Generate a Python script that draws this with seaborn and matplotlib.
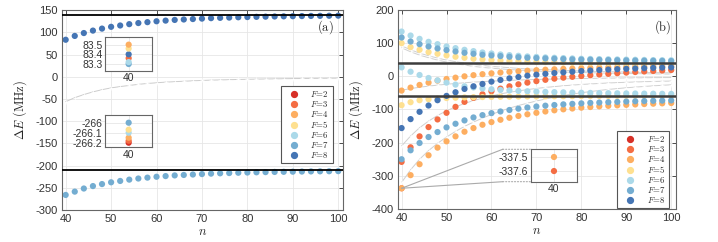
import numpy as np
import matplotlib
matplotlib.use('Agg')
import matplotlib.pyplot as plt
from matplotlib.lines import Line2D
from matplotlib.patches import ConnectionPatch
import seaborn as sns

# principal quantum number
n = np.arange(40, 102, 2)
F_values = [2, 3, 4, 5, 6, 7, 8]
colors = {2: '#d73027', 3: '#f46d43', 4: '#fdae61', 5: '#fee090',
          6: '#abd9e9', 7: '#74add1', 8: '#4575b4'}

# ---- panel (a) ----
upper_a = [83.4, 92.0, 98.5, 104.0, 108.5, 112.5, 115.5, 118.5, 121.0, 123.0, 125.0,
           126.5, 128.0, 129.0, 130.0, 131.0, 132.0, 132.7, 133.3, 134.0, 134.5,
           135.0, 135.4, 135.8, 136.1, 136.4, 136.7, 137.0, 137.2, 137.4, 137.6]
lower_a = [-266.0, -258.5, -251.5, -246.0, -241.5, -237.5, -234.5, -231.5, -229.0, -227.0,
           -225.0, -223.5, -222.0, -221.0, -220.0, -219.0, -218.0, -217.3, -216.7, -216.0,
           -215.5, -215.0, -214.6, -214.2, -213.9, -213.6, -213.3, -213.0, -212.8, -212.6, -212.4]
gray_a = [-56, -47, -40, -34, -29, -25, -22, -19.5, -17, -15, -13.5, -12, -11, -10, -9,
          -8.2, -7.5, -7, -6.5, -6, -5.6, -5.2, -4.9, -4.6, -4.3, -4, -3.8, -3.6, -3.4, -3.2, -3]
hlines_a = [140, -210]

# insets of (a) at n = 40
inset_a1_F = [3, 7, 6, 8, 5, 4]
inset_a1_E = [83.36, 83.30, 83.32, 83.40, 83.46, 83.50]
inset_a2_F = [2, 3, 4, 6, 5, 7]
inset_a2_E = [-266.20, -266.18, -266.15, -266.10, -266.07, -266.00]

# ---- panel (b) ----
b_F6_up = [135, 123, 113, 104, 97, 90, 85, 80, 76, 72, 69, 66, 64, 62, 60, 58.5, 57, 56, 55,
           54, 53, 52.5, 52, 51.5, 51, 50.5, 50, 49.5, 49, 48.7, 48.5]
b_F7_up = [117, 105, 97, 90, 84, 79, 75, 71, 68, 65, 63, 61, 59, 57.5, 56, 55, 54, 53, 52,
           51, 50.5, 50, 49.5, 49, 48.5, 48, 47.5, 47, 46.7, 46.4, 46]
b_F5_up = [100, 88, 80, 73, 68, 63, 59, 56, 53, 51, 49, 47.5, 46, 45, 44, 43.5, 43, 42.5, 42,
           41.5, 41, 40.8, 40.5, 40.3, 40.1, 40, 39.8, 39.6, 39.5, 39.4, 39.3]
b_F4_mid = [-43, -34, -26, -19, -13, -8, -4, 0, 3.5, 6.5, 9, 11.5, 13.5, 15.5, 17, 18.5, 20,
            21.3, 22.5, 23.5, 24.5, 25.3, 26, 26.8, 27.5, 28.2, 28.8, 29.4, 30, 30.5, 31]
b_F8_mid = [-156, -129, -107, -88, -72, -59, -48, -38, -30, -23, -16, -11, -6, -2, 2, 5, 7.5,
            10, 12, 14, 16, 17.5, 19, 20.3, 21.5, 22.6, 23.6, 24.6, 25.5, 26.3, 27]
b_F3_mid = [-258, -214, -181, -153, -130, -110, -92, -77, -65, -54, -45, -37, -30, -24, -19,
            -14.5, -10.5, -7, -4, -1.5, 1, 3.3, 5.5, 7.5, 9.5, 11.3, 13, 14.6, 16, 17.5, 19]
b_F6_mid = [27, 14, 4, -5, -12, -19, -25, -30, -33.5, -36.5, -39, -41, -42.5, -44, -45, -46,
            -47, -47.7, -48.3, -49, -49.5, -50, -50.4, -50.8, -51.2, -51.5, -51.8, -52.1,
            -52.4, -52.7, -53]
b_F5_low = [-87, -78, -72, -69, -67, -65.5, -64.5, -63.7, -63, -62.5, -62, -61.6, -61.3, -61,
            -60.8, -60.6, -60.4, -60.2, -60, -59.8, -59.6, -59.4, -59.2, -59, -58.8, -58.6,
            -58.4, -58.2, -58, -57.8, -57.6]
b_F7_low = [-250, -223, -201, -183, -168, -154, -143, -133, -124, -117, -111, -106, -101.5,
            -97.5, -94, -91, -88.5, -86.5, -84.5, -83, -81.5, -80, -79, -78, -77, -76, -75.2,
            -74.5, -73.8, -73.2, -72.6]
b_F4_low = [-337.5, -298, -265, -238, -215, -196, -181, -167, -156, -146, -138, -131, -125,
            -119.5, -114.5, -110, -106, -102.5, -99.5, -97, -94.5, -92.5, -90.5, -89, -87.5,
            -86, -84.8, -83.6, -82.5, -81.5, -80.5]
branches_b = [(3, b_F3_mid), (4, b_F4_mid), (4, b_F4_low), (5, b_F5_up), (5, b_F5_low),
              (6, b_F6_up), (6, b_F6_mid), (7, b_F7_up), (7, b_F7_low), (8, b_F8_mid)]

gb1 = [92, 80, 70, 62, 55, 49, 44, 40, 36, 33, 30, 28, 26, 24, 22.5, 21, 20, 19, 18, 17, 16,
       15.3, 14.6, 14, 13.4, 12.8, 12.3, 11.8, 11.4, 11, 10.6]
gb2 = [86, 74, 64, 56, 49, 43, 38, 34, 30, 27, 24.5, 22.5, 20.5, 19, 17.5, 16.2, 15, 14, 13,
       12.2, 11.5, 10.8, 10.2, 9.6, 9.1, 8.6, 8.2, 7.8, 7.4, 7.1, 6.8]
gb3 = [-42, -37, -33, -29.5, -26.5, -24, -21.5, -19.5, -17.5, -16, -14.5, -13.3, -12.2, -11.2,
       -10.3, -9.5, -8.8, -8.2, -7.6, -7.1, -6.6, -6.2, -5.8, -5.4, -5.1, -4.8, -4.5, -4.2,
       -4, -3.8, -3.6]
gb4 = [-210, -180, -155, -135, -118, -104, -92, -82, -73, -66, -59, -53, -48, -44, -40, -36.5,
       -33.5, -31, -28.5, -26.5, -24.5, -23, -21.5, -20, -19, -18, -17, -16.2, -15.5, -14.8, -14.2]
gb5 = [-320, -282, -250, -224, -202, -183, -166, -151, -138, -126, -115, -105, -96, -88, -81,
       -74.5, -68.5, -63, -58, -53.5, -49.5, -46, -42.5, -39.5, -37, -34.5, -32.5, -30.5,
       -28.7, -27, -25.5]
gray_b = [gb1, gb2, gb3, gb4, gb5]
hlines_b = [40, -60]

inset_b_F = [4, 3]
inset_b_E = [-337.5, -337.6]

sns.set_theme(style='whitegrid')
plt.rcParams['font.family'] = ['Liberation Sans', 'DejaVu Sans']
plt.rcParams['mathtext.fontset'] = 'cm'
plt.rcParams['axes.unicode_minus'] = False

fig = plt.figure(figsize=(7.18, 2.42), dpi=100)
ax_a = fig.add_axes([0.0864, 0.132, 0.391, 0.826])
ax_b = fig.add_axes([0.5543, 0.1364, 0.3868, 0.8223])


def style(ax, ylim, yticks):
    ax.set_xlim(39.2, 101)
    ax.set_ylim(*ylim)
    ax.set_xticks(range(40, 101, 10))
    ax.set_yticks(yticks)
    ax.set_facecolor('white')
    ax.grid(True, color='#e6e6e6', lw=0.6)
    ax.tick_params(direction='in', length=3, top=True, right=True, labelsize=8,
                   colors='#333333', pad=3, width=0.6)
    for s in ax.spines.values():
        s.set_color('#666666')
        s.set_linewidth(0.8)
    ax.set_xlabel('$n$', fontsize=9, labelpad=1)
    ax.set_ylabel(r'$\Delta E\ (\mathrm{MHz})$', fontsize=9, labelpad=5)


def dots(ax, x, y, c, s=20, z=2):
    sns.scatterplot(x=x, y=y, ax=ax, color=c, s=s, edgecolor='none', linewidth=0, zorder=z,
                    legend=False)


def legend(ax, anchor):
    handles = [Line2D([], [], marker='o', ls='', color=colors[F], markersize=4.2,
                      label=r'$F\!=\!%d$' % F) for F in F_values]
    lg = ax.legend(handles=handles, loc='upper right', bbox_to_anchor=anchor,
                   fontsize=6.3, frameon=True, fancybox=False, framealpha=1,
                   edgecolor='#555555', handlelength=2.2, handletextpad=0.8,
                   labelspacing=0.0, borderpad=0.35, borderaxespad=0)
    lg.get_frame().set_linewidth(0.8)


def inset(rect, ys, Fs, ylim, yticks, yfmt):
    ai = fig.add_axes(rect)
    ai.set_facecolor('white')
    ai.set_xlim(39.5, 40.5)
    ai.set_ylim(*ylim)
    ai.set_xticks([40])
    ai.set_yticks(yticks)
    ai.set_yticklabels([yfmt % v for v in yticks])
    ai.grid(True, color='#e6e6e6', lw=0.6)
    ai.tick_params(direction='in', length=2, labelsize=7.5, colors='#333333', pad=2)
    for s in ai.spines.values():
        s.set_color('#666666')
        s.set_linewidth(0.8)
    for F, v in zip(Fs, ys):
        dots(ai, [40], [v], colors[F])
    return ai


# panel (a)
style(ax_a, (-300, 150), range(-300, 151, 50))
sns.lineplot(x=n, y=gray_a, ax=ax_a, color='#cccccc', lw=0.7, marker='+', markersize=2.5,
             markeredgewidth=0.5, zorder=1)
dots(ax_a, n, lower_a, colors[7])
dots(ax_a, n, upper_a, colors[8])
for v in hlines_a:
    ax_a.axhline(v, color='black', lw=1.3, zorder=3)
legend(ax_a, (0.964, 0.62))
ax_a.text(0.937, 0.915, r'$(\mathrm{a})$', transform=ax_a.transAxes, fontsize=9,
          ha='center', va='center')

inset([0.1467, 0.7079, 0.065, 0.138], inset_a1_E, inset_a1_F,
      (83.231, 83.576), [83.3, 83.4, 83.5], '%.1f')
inset([0.1467, 0.3913, 0.065, 0.1322], inset_a2_E, inset_a2_F,
      (-266.246, -265.926), [-266.2, -266.1, -266.0], '%g')

# panel (b)
style(ax_b, (-400, 200), range(-400, 201, 100))
for g in gray_b:
    sns.lineplot(x=n, y=g, ax=ax_b, color='#d0d0d0', lw=0.7, marker='+', markersize=2.5,
                 markeredgewidth=0.5, zorder=1)
dots(ax_b, [40], [inset_b_E[1]], colors[3])
for F, vals in branches_b:
    dots(ax_b, n, vals, colors[F])
for v in hlines_b:
    ax_b.axhline(v, color='#3c3c3c', lw=1.8, zorder=3)
legend(ax_b, (0.976, 0.392))
ax_b.text(0.954, 0.915, r'$(\mathrm{b})$', transform=ax_b.transAxes, fontsize=9,
          ha='center', va='center')

ai_b = inset([0.7391, 0.2492, 0.0649, 0.1339], inset_b_E, inset_b_F,
             (-337.676, -337.445), [-337.6, -337.5], '%.1f')
for yb in (1, 0):
    c1 = ConnectionPatch(xyA=(40, inset_b_E[0]), coordsA=ax_b.transData,
                         xyB=(-0.6, yb), coordsB=ai_b.transAxes, color='#aaaaaa', lw=0.8)
    c2 = ConnectionPatch(xyA=(-0.6, yb), coordsA=ai_b.transAxes,
                         xyB=(0, yb), coordsB=ai_b.transAxes, color='#aaaaaa', lw=0.8, ls=':')
    fig.add_artist(c1)
    fig.add_artist(c2)

fig.savefig('out.png', dpi=100)
